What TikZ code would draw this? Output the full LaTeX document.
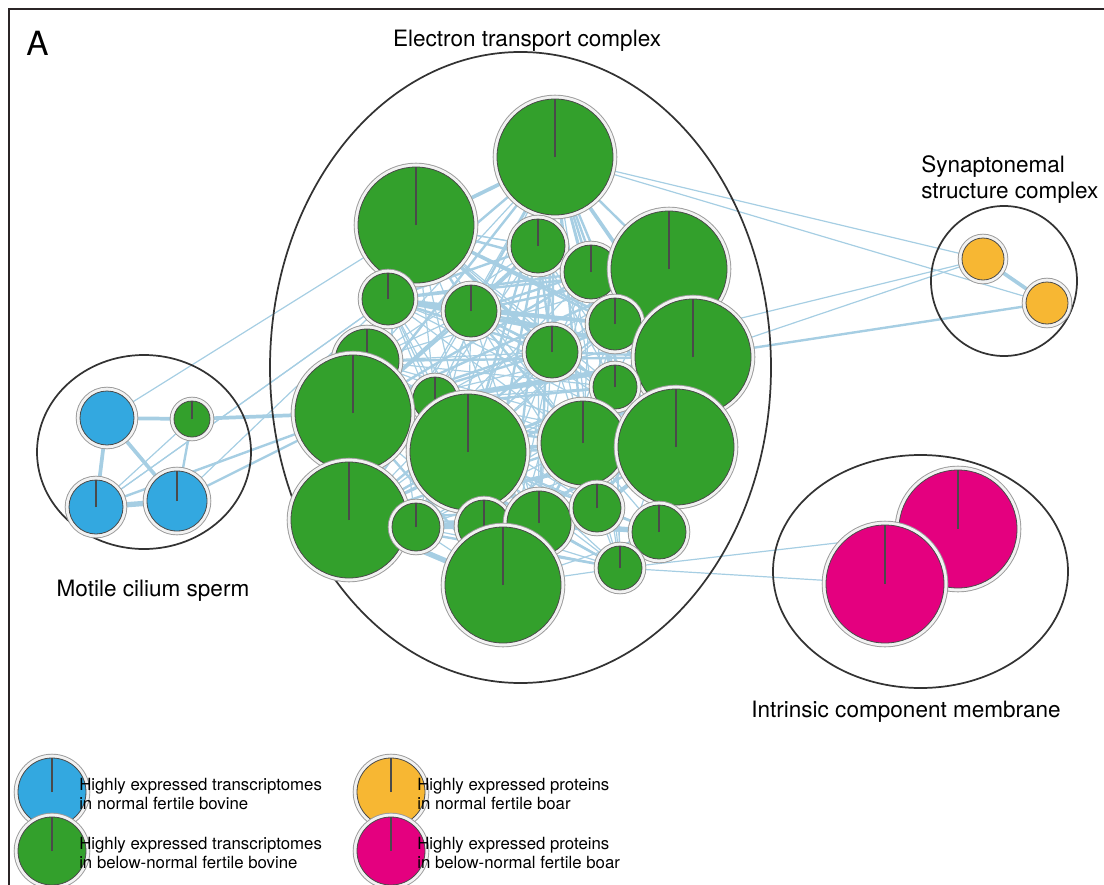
\documentclass[tikz,border=0pt]{standalone}
\usepackage{fontspec}
\setmainfont{TeX Gyre Heros}
\usetikzlibrary{backgrounds}
\definecolor{edgec}{HTML}{A6CEE3}
\definecolor{cgreen}{HTML}{33A02C}
\definecolor{cblue}{HTML}{33A8E0}
\definecolor{cyellow}{HTML}{F7B733}
\definecolor{cmag}{HTML}{E4007F}
\definecolor{ringfill}{HTML}{F2F2F2}
\definecolor{ringout}{HTML}{9A9A9A}
\definecolor{ringin}{HTML}{4A4A4A}
\definecolor{framec}{HTML}{2B2526}
\definecolor{grpc}{HTML}{333333}
\tikzset{
  net/.style={circle, inner sep=0pt, outer sep=0pt, fill=#1, draw=ringin, line width=0.6pt,
    preaction={draw=ringout, line width=6.4pt},
    preaction={draw=ringfill, line width=5.0pt}},
  rad/.style={minimum size={1.5pt*#1}},
  pie/.style={path picture={\draw[ringin, line width=1.2pt] (path picture bounding box.center) -- (path picture bounding box.north);}},
  edge/.style={draw=edgec, line cap=round},
  w1/.style={line width=0.9pt},
  w2/.style={line width=1.8pt},
  w3/.style={line width=2.8pt},
  w4/.style={line width=4.0pt},
  grp/.style={draw=grpc, line width=1.3pt},
  lbl/.style={font=\fontsize{16.9}{19.5}\selectfont, inner sep=0pt},
  leg/.style={font=\fontsize{12.6}{14.3}\selectfont, align=left, inner sep=0pt, anchor=west},
}
\begin{document}
\begin{tikzpicture}[x=0.75pt, y=-0.75pt]
\useasboundingbox (0,0) rectangle (1104,885);
% frame
\draw[framec, line width=1.5pt] (9,886) -- (9,9) -- (1105,9);
% group outlines
\draw[grp] (520.5,367.5) ellipse [x radius=250.5, y radius=315.5];
\draw[grp] (1004,281) ellipse [x radius=73, y radius=75];
\draw[grp] (144,452) ellipse [x radius=107, y radius=97];
\draw[grp] (920.5,571.5) ellipse [x radius=147.5, y radius=116.5];
% nodes
\foreach \n/\x/\y/\r in {g1/555/157/29, g2/416/225/29, g3/538/246/13.5, g4/591/272/13.5,
  g5/669/269/29, g6/388/299/13, g7/471/311/13, g8/615/324/13, g9/552/352/13,
  g10/693/357/29, g11/367/361/16, g12/615/387/11, g13/435/399/11, g14/353/413/29,
  g15/468/452/29, g16/583/443/21, g17/676/447/29, g18/349/520/29, g19/416/527/12,
  g20/484/526/13, g21/539/523/16, g22/597/508/12, g23/659/532/13.5, g24/620/568/11,
  g25/503/585/29, g26/192/419/9}
  \node[net=cgreen, rad=2*\r, pie] (\n) at (\x,\y) {};
\node[net=cblue, rad=27] (b1) at (107,418) {};
\node[net=cblue, rad=27, pie] (b2) at (96,507) {};
\node[net=cblue, rad=30, pie] (b3) at (177,501) {};
\node[net=cyellow, rad=21] (y1) at (983,259) {};
\node[net=cyellow, rad=21] (y2) at (1047,303) {};
\node[net=cmag, rad=59, pie] (m1) at (958,529) {};
\node[net=cmag, rad=59, pie] (m2) at (885,584) {};
% edges
\begin{scope}[on background layer]
\foreach \a/\b/\w in {
 g1/g2/3, g1/g3/2, g1/g4/2, g1/g5/2, g1/g6/2, g1/g7/2, g1/g8/2, g1/g9/2, g1/g10/3, g1/g11/1,
 g1/g12/2, g1/g13/1, g1/g14/2, g1/g15/2, g1/g16/2, g1/g17/2, g1/g18/1, g1/g19/1, g1/g20/2,
 g1/g21/2, g1/g22/1, g1/g23/1, g1/g24/1, g1/g25/2, g1/y1/1, g1/y2/1,
 g2/g3/1, g2/g4/2, g2/g5/1, g2/g6/2, g2/g7/2, g2/g8/2, g2/g9/3, g2/g10/2, g2/g11/2, g2/g12/1,
 g2/g13/1, g2/g14/3, g2/g15/1, g2/g16/1, g2/g17/1, g2/g18/1, g2/g21/1, g2/g22/1, g2/b1/1,
 g3/g4/2, g3/g5/2, g3/g6/2, g3/g7/2, g3/g8/2, g3/g9/2, g3/g10/2, g3/g12/1, g3/g14/2, g3/g15/1,
 g3/g16/1, g3/g17/1, g3/g18/1, g3/g21/1, g3/g11/1,
 g4/g5/2, g4/g6/2, g4/g7/2, g4/g8/2, g4/g9/1, g4/g10/2, g4/g12/2, g4/g14/2, g4/g16/1, g4/g17/1,
 g4/g18/1, g4/g24/1, g4/g25/1,
 g5/g6/2, g5/g7/2, g5/g8/2, g5/g9/1, g5/g10/2, g5/g14/2, g5/g11/1, g5/g15/1, g5/g16/1, g5/g17/1, g5/g13/1,
 g6/g7/2, g6/g8/3, g6/g9/2, g6/g10/3, g6/g11/2, g6/g12/1, g6/g13/1, g6/g14/2, g6/g15/1, g6/g16/1,
 g6/g17/1, g6/g18/1, g6/g19/1, g6/g21/1, g6/g25/1, g6/b2/1, g6/b3/1,
 g7/g8/2, g7/g9/2, g7/g10/2, g7/g11/1, g7/g12/1, g7/g14/2, g7/g15/1, g7/g16/2, g7/g17/1, g7/g18/1,
 g7/g19/1, g7/g21/1,
 g8/g9/2, g8/g10/2, g8/g12/2, g8/g14/2, g8/g15/1, g8/g16/1, g8/g17/2, g8/g18/1, g8/g21/1, g8/g24/1, g8/g22/1,
 g9/g10/2, g9/g11/1, g9/g12/2, g9/g14/2, g9/g15/1, g9/g16/1, g9/g17/1, g9/g18/2, g9/g20/1, g9/g21/1, g9/g25/1,
 g10/g11/2, g10/g12/2, g10/g13/2, g10/g14/4, g10/g15/2, g10/g16/2, g10/g17/2, g10/g18/2, g10/g19/1,
 g10/g20/1, g10/g21/2, g10/g22/2, g10/g23/1, g10/g24/1, g10/g25/2, g10/y1/1, g10/y2/2,
 g11/g12/1, g11/g13/1, g11/g14/2, g11/g15/1, g11/g16/1, g11/g17/1, g11/g18/1, g11/g20/1, g11/g22/1,
 g12/g13/1, g12/g14/2, g12/g15/1, g12/g16/1, g12/g17/2, g12/g18/1, g12/g21/1, g12/g22/1, g12/g24/1,
 g13/g14/2, g13/g15/1, g13/g16/1, g13/g17/1, g13/g18/1, g13/g20/1, g13/g21/1, g13/g24/1,
 g14/g15/2, g14/g16/2, g14/g17/2, g14/g18/2, g14/g19/1, g14/g20/1, g14/g21/2, g14/g22/1, g14/g23/1,
 g14/g24/1, g14/g25/2, g14/g26/3, g14/b2/2, g14/b3/2, g14/y1/1,
 g15/g16/3, g15/g17/2, g15/g18/2, g15/g19/1, g15/g20/1, g15/g21/2, g15/g22/1, g15/g23/1, g15/g24/1, g15/g25/2,
 g16/g17/2, g16/g18/2, g16/g19/1, g16/g20/1, g16/g21/1, g16/g22/1, g16/g23/1, g16/g24/1, g16/g25/2,
 g17/g18/3, g17/g19/1, g17/g20/2, g17/g21/2, g17/g22/2, g17/g23/2, g17/g24/1, g17/g25/3,
 g18/g19/3, g18/g20/2, g18/g21/2, g18/g22/2, g18/g23/2, g18/g24/2, g18/g25/4,
 g19/g20/4, g19/g21/2, g19/g22/1, g19/g24/1, g19/g25/1,
 g20/g21/4, g20/g22/2, g20/g23/1, g20/g24/1, g20/g25/2,
 g21/g22/2, g21/g23/4, g21/g24/2, g21/g25/2,
 g22/g23/2, g22/g24/1, g22/g25/2,
 g23/g24/1, g23/g25/1,
 g24/g25/1, g24/m1/1, g24/m2/1, m1/m2/4,
 y1/y2/3,
 b1/b2/3, b1/b3/3, b1/g26/3, b2/b3/4, b2/g26/1, b3/g26/2, b2/g6/1}
 \draw[edge, w\w] (\a) -- (\b);
\end{scope}
% labels
\node[font=\fontsize{25}{28}\selectfont, inner sep=0pt] (tA) at (37.5,43) {A};
\node[lbl] (tetc) at (527,41) {Electron transport complex};
\node[lbl, align=left, anchor=west] (tsyn) at (921,180) {Synaptonemal\\structure complex};
\node[lbl] (tmot) at (153,591) {Motile cilium sperm};
\node[lbl] (tint) at (906,712) {Intrinsic component membrane};
% legend
\node[net=cblue, rad=34, pie] (lb) at (52,792) {};
\node[net=cgreen, rad=34, pie] (lg) at (52,851) {};
\node[net=cyellow, rad=34, pie] (ly) at (391,792) {};
\node[net=cmag, rad=34, pie] (lm) at (391,851) {};
\node[leg] (lbt) at (79,794) {Highly expressed transcriptomes\\in normal fertile bovine};
\node[leg] (lgt) at (79,853) {Highly expressed transcriptomes\\in below-normal fertile bovine};
\node[leg] (lyt) at (417,794) {Highly expressed proteins\\in normal fertile boar};
\node[leg] (lmt) at (417,853) {Highly expressed proteins\\in below-normal fertile boar};
\end{tikzpicture}
\end{document}
